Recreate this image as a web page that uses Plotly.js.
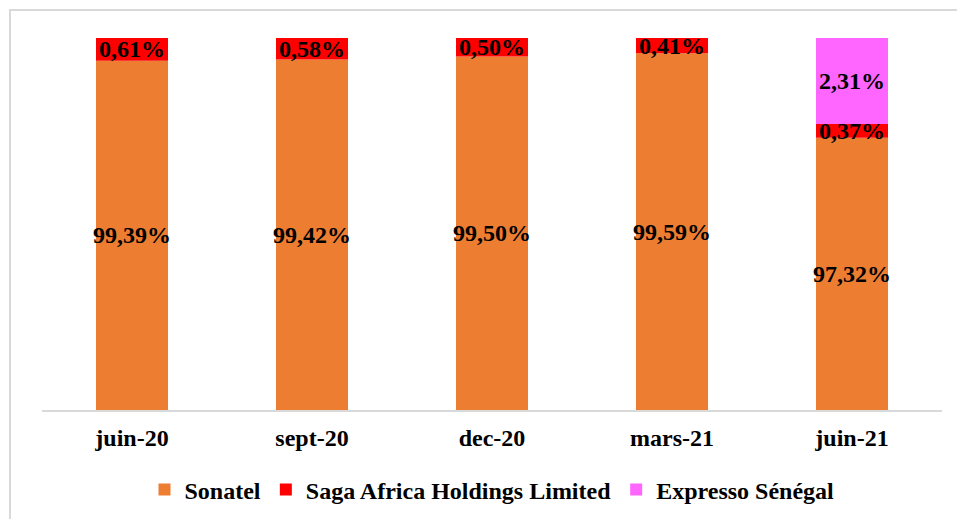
<!DOCTYPE html>
<html>
<head>
<meta charset="utf-8">
<script src="https://cdn.plot.ly/plotly-3.0.1.min.js"></script>
<style>
  body { margin: 0; background: #fff; }
  #wrap { position: relative; width: 957px; height: 519px; }
  #chart { width: 957px; height: 519px; }
  #frame { position: absolute; left: 9px; top: 9px; right: -5px; bottom: -5px;
           border-left: 2px solid #d9d9d9; border-top: 2px solid #d9d9d9; pointer-events: none; }
</style>
</head>
<body>
<div id="wrap">
  <div id="chart"></div>
  <div id="frame"></div>
</div>
<script>
const periods = ['juin-20', 'sept-20', 'dec-20', 'mars-21', 'juin-21'];
const sonatel = [99.39, 99.42, 99.50, 99.59, 97.32];
const saga = [0.61, 0.58, 0.50, 0.41, 0.37];
const expresso = [0, 0, 0, 0, 2.31];

const axisMin = 90;
const fmt = v => v ? v.toFixed(2).replace('.', ',') + '%' : '';
const labelFont = { family: 'Liberation Serif, Times New Roman, serif', size: 24, color: '#000', weight: 'bold' };

function series(name, vals, base, color) {
  return {
    type: 'bar',
    name: name,
    x: periods,
    y: vals,
    base: base,
    width: 0.4,
    marker: { color: color },
    text: vals.map(fmt),
    textposition: 'inside',
    insidetextanchor: 'middle',
    textangle: 0,
    constraintext: 'none',
    textfont: labelFont,
    hoverinfo: 'skip'
  };
}

const sonBase = sonatel.map(() => axisMin);
const sagaBase = sonatel.slice();
const expBase = sonatel.map((v, i) => v + saga[i]);

const data = [
  series('Sonatel', sonatel.map(v => v - axisMin), sonBase, '#ED7D31'),
  series('Saga Africa Holdings Limited', saga, sagaBase, '#FF0000'),
  series('Expresso Sénégal', expresso, expBase, '#FF66FF')
];
data[0].text = sonatel.map(fmt);

const layout = {
  width: 957,
  height: 519,
  margin: { l: 42, r: 15, t: 38, b: 109 },
  barmode: 'overlay',
  showlegend: true,
  paper_bgcolor: '#fff',
  plot_bgcolor: '#fff',
  font: { family: 'Liberation Serif, Times New Roman, serif', color: '#000' },
  xaxis: {
    showline: true,
    linecolor: '#d9d9d9',
    linewidth: 1.5,
    ticks: '',
    ticklabelstandoff: 6,
    tickfont: { size: 24, weight: 'bold' },
    automargin: false,
    fixedrange: true
  },
  yaxis: {
    range: [axisMin, 100],
    visible: false,
    showgrid: false,
    automargin: false,
    fixedrange: true
  },
  legend: {
    orientation: 'h',
    x: 0.5,
    xanchor: 'center',
    yref: 'container',
    y: 0.056,
    yanchor: 'middle',
    font: { size: 24, weight: 'bold' },
    traceorder: 'normal'
  }
};

Plotly.newPlot('chart', data, layout, { displayModeBar: false, staticPlot: true });
</script>
</body>
</html>
